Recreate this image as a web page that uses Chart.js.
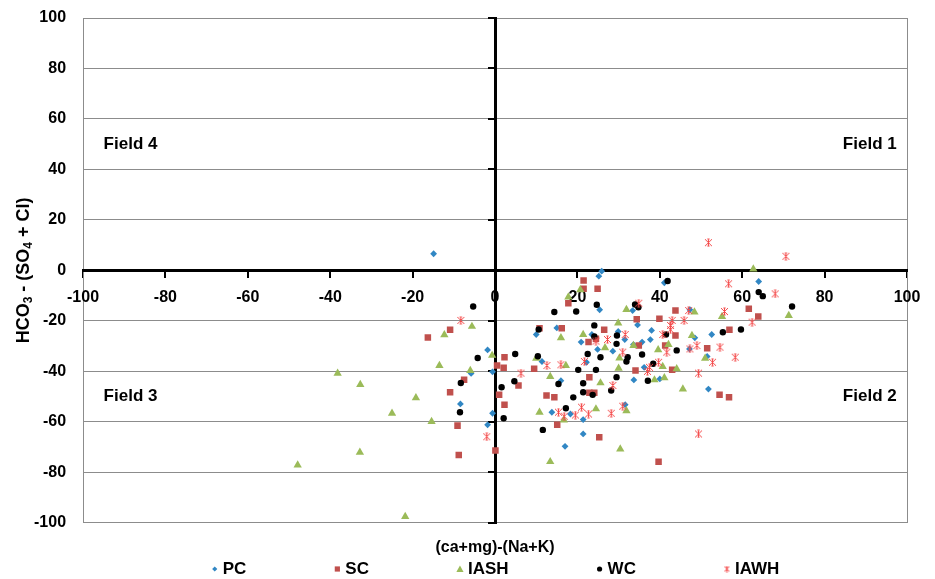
<!DOCTYPE html>
<html>
<head>
<meta charset="utf-8">
<title>Ion balance scatter</title>
<script src="https://cdn.jsdelivr.net/npm/chart.js@4.4.1/dist/chart.umd.min.js"></script>
<style>
  html, body { margin: 0; padding: 0; background: #fff; }
  #wrap { width: 935px; height: 579px; }
</style>
</head>
<body>
<div id="wrap"><canvas id="myChart" width="935" height="579"></canvas></div>
<script>
const seriesNames = ['PC', 'SC', 'IASH', 'WC', 'IAWH'];
const axisTicks = [-100, -80, -60, -40, -20, 0, 20, 40, 60, 80, 100];

// [ (ca+mg)-(Na+K) , HCO3-(SO4+Cl) ]
const pcPoints = [
  [-14.9, 6.6], [-1.8, -31.5], [-0.6, -40.2], [-5.8, -40.8], [-8.4, -52.9], [-0.6, -56.6], [-1.8, -61.2],
  [10.0, -25.4], [15.0, -22.8], [11.4, -36.1], [16.0, -43.7], [20.9, -28.4], [22.2, -36.4], [13.8, -56.2],
  [18.3, -56.9], [21.4, -64.8], [17.0, -69.7], [21.4, -59.1], [25.9, -0.3], [25.2, -2.3], [25.4, -15.6],
  [24.9, -31.3], [28.6, -32.0], [29.9, -24.2], [33.4, -15.9], [34.6, -21.6], [33.6, -29.4], [41.1, -4.9],
  [23.5, -25.4], [31.5, -27.4], [38.0, -23.8], [37.7, -27.4], [35.7, -28.4], [36.2, -38.4], [33.7, -43.4],
  [40.0, -43.0], [31.6, -53.2], [47.2, -31.1], [47.3, -15.6], [48.5, -26.7], [52.6, -25.4], [51.5, -34.1],
  [64.0, -4.4], [51.8, -47.0]
];
const scPoints = [
  [-10.9, -23.5], [-16.3, -26.6], [-7.5, -43.3], [-10.9, -48.3], [0.5, -37.7], [1.0, -49.3], [-9.1, -61.5],
  [-8.8, -73.1], [0.1, -71.4], [21.5, -4.0], [21.5, -7.3], [17.8, -13.0], [10.8, -22.9], [16.2, -22.9],
  [22.7, -28.4], [2.3, -34.4], [2.1, -38.6], [9.5, -39.0], [5.7, -45.6], [2.3, -53.2], [12.5, -49.6],
  [14.4, -50.3], [15.1, -61.2], [22.9, -42.3], [22.9, -48.5], [24.1, -48.5], [24.9, -7.3], [26.5, -23.5],
  [24.5, -27.1], [34.4, -19.4], [34.9, -29.8], [34.1, -39.7], [25.3, -66.1], [39.9, -19.2], [43.8, -15.9],
  [43.8, -25.8], [41.3, -29.8], [43.0, -39.4], [39.7, -75.8], [51.5, -30.8], [61.6, -15.2], [63.9, -18.3],
  [56.9, -23.5], [54.5, -49.3], [56.8, -50.3]
];
const iashPoints = [
  [-5.6, -22.2], [-12.3, -25.5], [-0.7, -33.7], [-13.5, -37.7], [-6.0, -39.7], [-38.2, -40.8], [-32.7, -45.2],
  [-19.2, -50.5], [-25.0, -56.6], [-15.4, -59.9], [-32.8, -72.1], [-47.9, -77.1], [-21.8, -97.5],
  [17.8, -10.6], [20.7, -7.7], [16.0, -26.7], [21.4, -25.4], [10.0, -34.8], [17.2, -37.7], [13.4, -42.1],
  [10.8, -56.2], [16.7, -59.3], [13.4, -75.8], [31.9, -15.5], [29.9, -20.9], [33.6, -29.8], [26.7, -30.7],
  [30.2, -34.7], [30.0, -38.8], [25.6, -44.6], [24.5, -54.9], [31.9, -55.6], [30.4, -70.8], [39.6, -31.5],
  [42.1, -29.4], [47.8, -25.8], [40.7, -38.1], [44.1, -39.0], [38.7, -43.4], [41.1, -42.6], [45.6, -47.0],
  [48.4, -16.5], [55.1, -18.3], [51.0, -34.8], [62.7, 0.5], [71.3, -17.9]
];
const wcPoints = [
  [-5.3, -14.3], [-4.2, -34.7], [-8.3, -44.6], [1.6, -46.3], [-8.5, -56.2], [14.4, -16.5], [19.7, -16.3],
  [10.6, -23.4], [4.9, -33.1], [10.4, -34.0], [22.5, -33.1], [20.2, -39.4], [4.7, -43.9], [15.4, -45.0],
  [21.4, -44.7], [21.4, -48.3], [19.0, -50.3], [17.2, -54.6], [2.1, -58.6], [11.6, -63.2], [24.7, -13.6],
  [34.0, -13.5], [34.8, -14.6], [24.1, -21.8], [29.6, -25.8], [24.1, -26.2], [29.5, -29.1], [25.6, -34.4],
  [31.9, -36.1], [29.5, -42.3], [24.5, -39.4], [28.2, -47.6], [23.7, -49.3], [41.9, -4.2], [32.2, -34.4],
  [35.7, -33.3], [41.5, -25.4], [44.1, -31.7], [38.4, -37.0], [37.1, -43.7], [55.3, -24.5], [59.7, -23.4],
  [64.0, -8.6], [65.0, -10.2], [72.1, -14.3]
];
const iawhPoints = [
  [-8.3, -19.8], [-2.0, -65.9], [12.6, -37.7], [16.0, -37.4], [21.7, -36.1], [6.3, -40.7], [15.4, -56.2],
  [16.8, -57.8], [19.5, -57.3], [21.0, -54.2], [22.7, -56.9], [34.9, -13.0], [27.3, -27.4], [31.6, -25.4],
  [31.0, -32.4], [24.5, -28.0], [28.6, -45.6], [31.0, -53.8], [28.2, -56.6], [47.0, -15.9], [45.9, -19.8],
  [43.0, -19.8], [42.6, -23.5], [41.7, -32.4], [39.7, -36.4], [37.5, -38.4], [37.0, -40.0], [47.3, -31.1],
  [51.8, 11.0], [56.7, -5.3], [68.0, -9.3], [55.7, -16.3], [62.4, -20.5], [42.6, -21.8], [40.7, -25.4],
  [49.0, -29.8], [54.6, -30.4], [58.3, -34.4], [52.8, -36.4], [49.4, -40.7], [49.4, -64.8], [70.6, 5.6]
];

const fieldLabels = [
  { text: 'Field 1', x: 97.5, y: 50, align: 'right' },
  { text: 'Field 2', x: 97.5, y: -50, align: 'right' },
  { text: 'Field 3', x: -95, y: -50, align: 'left' },
  { text: 'Field 4', x: -95, y: 50, align: 'left' }
];

const fontFamily = '"Liberation Sans", Arial, sans-serif';

// excel-style star marker: an x with a vertical bar and short caps
function makeStar(color, size) {
  const c = document.createElement('canvas');
  c.width = c.height = size;
  const g = c.getContext('2d');
  const m = size / 2, r = size / 2 - 1;
  g.strokeStyle = color;
  g.lineWidth = 1;
  g.beginPath();
  g.moveTo(m - r, m - r); g.lineTo(m + r, m + r);
  g.moveTo(m + r, m - r); g.lineTo(m - r, m + r);
  g.moveTo(m, m - r); g.lineTo(m, m + r);
  g.moveTo(m - r / 3, m - r); g.lineTo(m + r / 3, m - r);
  g.moveTo(m - r / 3, m + r); g.lineTo(m + r / 3, m + r);
  g.stroke();
  return c;
}

const starPlot = makeStar('#F44A4A', 9);
const starLegend = makeStar('#F44A4A', 7);

const toXY = arr => arr.map(p => ({ x: p[0], y: p[1] }));
const seriesData = [pcPoints, scPoints, iashPoints, wcPoints, iawhPoints];
const seriesColors = ['#3187C4', '#C0504D', '#9BBB59', '#000000', '#F44A4A'];
const seriesStyles = ['rectRot', 'rect', 'triangle', 'circle', starPlot];
const seriesRadius = [3.4, 4.6, 4.8, 3.2, 4.5];
const legendStyles = ['rectRot', 'rect', 'triangle', 'circle', starLegend];
const legendRadius = [2.6, 2.6, 3.6, 2.6, 3.5];

const datasets = seriesNames.map((name, i) => ({
  label: name,
  data: toXY(seriesData[i]),
  xAxisID: 'x',
  yAxisID: 'y',
  order: seriesNames.length - i,
  pointStyle: seriesStyles[i],
  pointRadius: seriesRadius[i],
  pointHoverRadius: seriesRadius[i],
  backgroundColor: seriesColors[i],
  borderColor: seriesColors[i],
  borderWidth: 0,
  showLine: false
}));

function drawMarker(ctx, style, x, y, r, color) {
  ctx.fillStyle = color;
  ctx.beginPath();
  if (style === 'rectRot') {
    ctx.moveTo(x - r, y); ctx.lineTo(x, y - r); ctx.lineTo(x + r, y); ctx.lineTo(x, y + r);
    ctx.closePath(); ctx.fill();
  } else if (style === 'rect') {
    ctx.fillRect(x - r, y - r, 2 * r, 2 * r);
  } else if (style === 'triangle') {
    ctx.moveTo(x, y - r); ctx.lineTo(x + r, y + r * 0.8); ctx.lineTo(x - r, y + r * 0.8);
    ctx.closePath(); ctx.fill();
  } else if (style === 'circle') {
    ctx.arc(x, y, r, 0, Math.PI * 2); ctx.fill();
  } else {
    ctx.drawImage(style, x - style.width / 2, y - style.height / 2);
  }
}

const extras = {
  id: 'extras',
  afterDraw(chart) {
    const { ctx, chartArea, scales } = chart;
    ctx.save();
    ctx.fillStyle = '#000';
    ctx.textBaseline = 'middle';

    // quadrant names
    ctx.font = 'bold 17px ' + fontFamily;
    fieldLabels.forEach(f => {
      ctx.textAlign = f.align;
      ctx.fillText(f.text, scales.x.getPixelForValue(f.x), scales.y.getPixelForValue(f.y));
    });

    // y title with subscripts
    const parts = [['HCO', 0], ['3', 1], [' - (SO', 0], ['4', 1], [' + Cl)', 0]];
    const big = 'bold 18px ' + fontFamily, small = 'bold 12px ' + fontFamily;
    let total = 0;
    parts.forEach(p => { ctx.font = p[1] ? small : big; total += ctx.measureText(p[0]).width; });
    ctx.translate(24, (chartArea.top + chartArea.bottom) / 2);
    ctx.rotate(-Math.PI / 2);
    ctx.textAlign = 'left';
    let cx = -total / 2;
    parts.forEach(p => {
      ctx.font = p[1] ? small : big;
      ctx.fillText(p[0], cx, p[1] ? 5 : 0);
      cx += ctx.measureText(p[0]).width;
    });
    ctx.restore();

    // legend row
    ctx.save();
    ctx.font = 'bold 17px ' + fontFamily;
    ctx.textBaseline = 'middle';
    ctx.textAlign = 'left';
    const gap = 87, lead = 12;
    const widths = seriesNames.map(n => lead + ctx.measureText(n).width);
    const rowW = widths.reduce((a, b) => a + b, 0) + gap * (widths.length - 1);
    let lx = (chartArea.left + chartArea.right) / 2 - rowW / 2;
    const ly = 569;
    seriesNames.forEach((n, i) => {
      drawMarker(ctx, legendStyles[i], lx + 4, ly, legendRadius[i], seriesColors[i]);
      ctx.fillStyle = '#000';
      ctx.fillText(n, lx + lead, ly);
      lx += widths[i] + gap;
    });
    ctx.restore();
  }
};

const setTicks = axis => { axis.ticks = axisTicks.map(v => ({ value: v })); };
const tickFont = { family: fontFamily, size: 16, weight: 'bold' };

const config = {
  type: 'scatter',
  data: { datasets },
  options: {
    responsive: false,
    animation: false,
    layout: { padding: { left: 34, top: 18, right: 28, bottom: 20 } },
    plugins: {
      legend: { display: false },
      tooltip: { enabled: false }
    },
    scales: {
      x: {
        type: 'linear', min: -100, max: 100,
        position: { y: 0 },
        afterBuildTicks: setTicks,
        ticks: { font: tickFont, color: '#000', padding: 12 },
        grid: { drawOnChartArea: false, drawTicks: true, tickLength: 6, color: '#000', lineWidth: 2 },
        border: { color: '#000', width: 3 }
      },
      x2: {
        type: 'linear', min: -100, max: 100,
        position: 'bottom',
        afterBuildTicks: setTicks,
        ticks: { display: false },
        grid: {
          drawTicks: false,
          color: c => (c.tick && Math.abs(c.tick.value) === 100) ? '#8c8c8c' : 'rgba(0,0,0,0)'
        },
        border: { display: false },
        title: {
          display: true, text: '(ca+mg)-(Na+K)', color: '#000',
          font: { family: fontFamily, size: 16, weight: 'bold' },
          padding: { top: 15, bottom: 2 }
        }
      },
      y: {
        type: 'linear', min: -100, max: 100,
        position: 'left',
        afterBuildTicks: setTicks,
        // label gap comes from an invisible tick mark so it does not pad the top
        ticks: { font: tickFont, color: '#000', padding: 0 },
        grid: {
          drawTicks: true,
          tickLength: 17,
          tickColor: 'rgba(0,0,0,0)',
          color: c => (c.tick && c.tick.value === 0) ? 'rgba(0,0,0,0)' : '#8c8c8c',
          lineWidth: 1
        },
        border: { display: false }
      },
      y2: {
        type: 'linear', min: -100, max: 100,
        position: { x: 0 },
        afterBuildTicks: setTicks,
        ticks: { display: false },
        grid: { drawOnChartArea: false, drawTicks: true, tickLength: 6, color: '#000', lineWidth: 2 },
        border: { color: '#000', width: 3 }
      }
    }
  },
  plugins: [extras]
};

const ctx = document.getElementById('myChart').getContext('2d');
const myChart = new Chart(ctx, config);
</script>
</body>
</html>
